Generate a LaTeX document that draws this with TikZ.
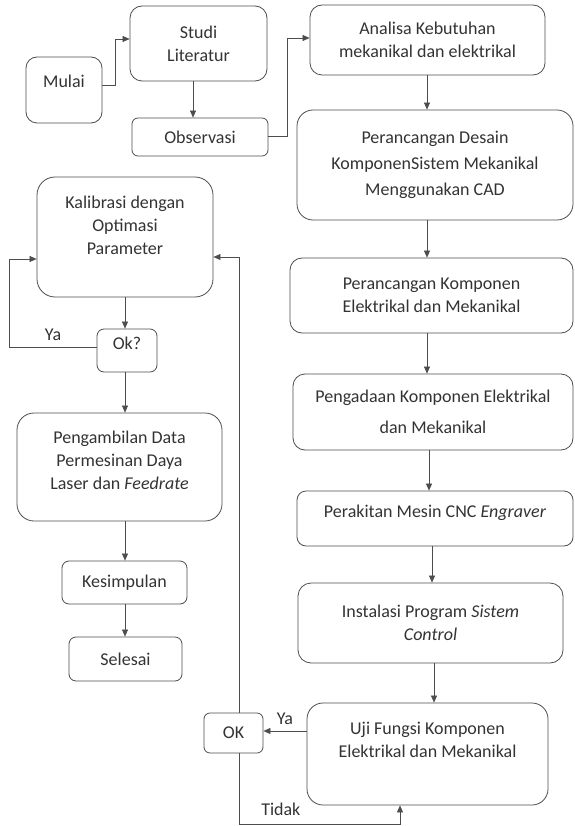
\documentclass[tikz,border=0pt]{standalone}
\usepackage{fontspec}
\setmainfont{Carlito}
\usetikzlibrary{arrows.meta}
\definecolor{linegray}{HTML}{4D4D4D}
\definecolor{textgray}{HTML}{333333}
\newcommand{\padline}[1]{\\[#1]\mbox{}}

\begin{document}
\begin{tikzpicture}[
    x=1pt, y=-1pt,
    box/.style={draw=linegray, line width=0.8pt, rounded corners=#1, align=center, text=textgray, font=\fontsize{18}{23}\selectfont, inner sep=0pt},
    box/.default=10pt,
    arrow/.style={-{Triangle[length=7pt, width=6pt]}, line width=0.6pt, color=linegray},
    lbl/.style={text=textgray, font=\fontsize{18}{23}\selectfont}
]
\useasboundingbox (0,0) rectangle (574,826);

% start and literature
\node[box=11pt, minimum width=76pt, minimum height=66pt] (mulai) at (64,90) {Mulai\padline{-5pt}};
\node[box=12pt, minimum width=137pt, minimum height=75pt] (studi) at (198.5,43.5) {Studi\\Literatur};
\node[box=6pt, minimum width=136pt, minimum height=38pt] (observasi) at (200,137) {Observasi};

% right column
\node[box=12pt, minimum width=235pt, minimum height=70pt] (analisa) at (427.5,40) {Analisa Kebutuhan\\mekanikal dan elektrikal};
\node[box=16pt, minimum width=276pt, minimum height=110pt] (desain) at (435,165) {Perancangan Desain\\[3pt]KomponenSistem Mekanikal\\[3pt]Menggunakan CAD};
\node[box=12pt, minimum width=283pt, minimum height=75pt] (rancang) at (431.5,295.5) {Perancangan Komponen\\Elektrikal dan Mekanikal};
\node[box=12pt, minimum width=280pt, minimum height=76pt] (pengadaan) at (433,412) {Pengadaan Komponen Elektrikal\\[8pt]dan Mekanikal};
\node[box=9pt, minimum width=276pt, minimum height=55pt] (perakitan) at (435,518.5) {Perakitan Mesin CNC \textit{Engraver}\padline{-9pt}};
\node[box=13pt, minimum width=265pt, minimum height=80pt] (instalasi) at (430.5,623) {Instalasi Program \textit{Sistem}\\\textit{Control}};
\node[box=16pt, minimum width=241pt, minimum height=102pt] (uji) at (427.5,754) {Uji Fungsi Komponen\\Elektrikal dan Mekanikal\padline{5pt}};
\node[box=6pt, minimum width=59pt, minimum height=40pt] (ok) at (233.5,733) {OK};

% left column
\node[box=18pt, minimum width=176pt, minimum height=120pt] (kalibrasi) at (125,237) {Kalibrasi dengan\\Optimasi\\Parameter\padline{0pt}};
\node[box=7pt, minimum width=60pt, minimum height=43pt] (cek) at (127,350.5) {Ok?\padline{-9pt}};
\node[box=17pt, minimum width=205pt, minimum height=108pt] (ambil) at (119.5,467) {Pengambilan Data\\Permesinan Daya\\Laser dan \textit{Feedrate}\padline{-9pt}};
\node[box=7pt, minimum width=125pt, minimum height=43pt] (kesimpulan) at (124.5,582.5) {Kesimpulan};
\node[box=7pt, minimum width=113pt, minimum height=44pt] (selesai) at (125.5,659) {Selesai};

% connectors
\draw[arrow] (mulai.east |- 0,85) -- ++(13,0) |- (studi.west |- 0,39);
\draw[arrow] (studi.south -| 193,0) -- (observasi.north -| 193,0);
\draw[arrow] (observasi.east |- 0,136) -- ++(19,0) |- (analisa.west |- 0,38);
\draw[arrow] (analisa.south -| 427,0) -- (desain.north -| 427,0);
\draw[arrow] (desain.south -| 427,0) -- (rancang.north -| 427,0);
\draw[arrow] (rancang.south -| 427,0) -- (pengadaan.north -| 427,0);
\draw[arrow] (pengadaan.south -| 429,0) -- (perakitan.north -| 429,0);
\draw[arrow] (perakitan.south -| 432,0) -- (instalasi.north -| 432,0);
\draw[arrow] (instalasi.south -| 434,0) -- (uji.north -| 434,0);
\draw[arrow] (uji.west |- 0,731) -- node[lbl, above=3pt] {Ya} (ok.east |- 0,731);
\draw[arrow] (ok.south -| 239,0) |- node[lbl, pos=0.63, above=5pt] {Tidak} (400,824) -- (uji.south -| 400,0);
\draw[arrow] (ok.north -| 239,0) |- (kalibrasi.east |- 0,257);
\draw[arrow] (kalibrasi.south -| 125,0) -- (cek.north -| 125,0);
\draw[arrow] (cek.west |- 0,347) -- node[lbl, above=3pt] {Ya} ++(-87,0) |- (kalibrasi.west |- 0,259);
\draw[arrow] (cek.south -| 125,0) -- (ambil.north -| 125,0);
\draw[arrow] (ambil.south -| 125,0) -- (kesimpulan.north -| 125,0);
\draw[arrow] (kesimpulan.south -| 125,0) -- (selesai.north -| 125,0);
\end{tikzpicture}
\end{document}
